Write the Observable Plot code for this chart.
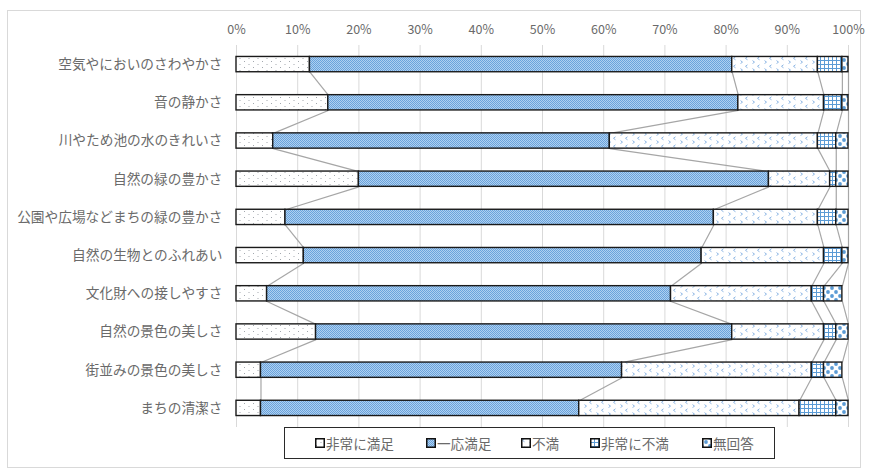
<!DOCTYPE html>
<html>
<head>
<meta charset="utf-8">
<script src="https://cdn.jsdelivr.net/npm/d3@7"></script>
<script src="https://cdn.jsdelivr.net/npm/@observablehq/plot@0.6"></script>
<style>
  html, body { margin: 0; padding: 0; background: #fff; }
  #wrap { position: relative; width: 869px; height: 474px; font-family: "Noto Sans CJK JP", "Noto Sans", sans-serif; }
  #frame { position: absolute; left: 7px; top: 10px; width: 854px; height: 458px; border: 1px solid #d9d9d9; box-sizing: border-box; }
  #chart { position: absolute; left: 0; top: 0; }
  #legend { position: absolute; left: 284px; top: 427px; width: 491px; height: 32px; border: 1px solid #2a2a2a; box-sizing: border-box; background: #fff; }
  .item { position: absolute; top: 0; height: 30px; display: flex; align-items: center; font-size: 13.6px; color: #6a6a6a; white-space: nowrap; }
  .item svg { margin-right: 1px; }
</style>
</head>
<body>
<div id="wrap">
  <div id="frame"></div>
  <div id="chart"></div>
  <div id="legend"></div>
</div>
<script>
// Satisfaction with the local environment, share of answers per item (%)
const categories = [
  "空気やにおいのさわやかさ",
  "音の静かさ",
  "川やため池の水のきれいさ",
  "自然の緑の豊かさ",
  "公園や広場などまちの緑の豊かさ",
  "自然の生物とのふれあい",
  "文化財への接しやすさ",
  "自然の景色の美しさ",
  "街並みの景色の美しさ",
  "まちの清潔さ"
];
const series = ["非常に満足", "一応満足", "不満", "非常に不満", "無回答"];
const verySatisfied     = [12, 15,  6, 20,  8, 11,  5, 13,  4,  4];
const somewhatSatisfied = [69, 67, 55, 67, 70, 65, 66, 68, 59, 52];
const dissatisfied      = [14, 14, 34, 10, 17, 20, 23, 15, 31, 36];
const veryDissatisfied  = [ 4,  3,  3,  1,  3,  3,  2,  2,  2,  6];
const noAnswer          = [ 1,  1,  2,  2,  2,  1,  3,  2,  3,  2];
const xTicks = [0, 10, 20, 30, 40, 50, 60, 70, 80, 90, 100];

const seriesValues = [verySatisfied, somewhatSatisfied, dissatisfied, veryDissatisfied, noAnswer];
const patternIds = ["pat-vs", "pat-ss", "pat-ds", "pat-vd", "pat-na"];
const half = 0.2; // half bar thickness, in row units

// cumulative boundaries per row: [0, s1, s1+s2, ...]
const cum = categories.map((_, i) => [0, ...d3.cumsum(seriesValues.map(v => v[i]))]);

const segments = [];
categories.forEach((c, i) => {
  series.forEach((s, k) => {
    segments.push({row: i, series: s, x1: cum[i][k], x2: cum[i][k + 1]});
  });
});

// series lines joining matching boundaries of neighbouring bars
const joins = [];
for (let k = 1; k <= series.length; k++) {
  for (let i = 0; i < categories.length - 1; i++) {
    joins.push({x1: cum[i][k], y1: i + half, x2: cum[i + 1][k], y2: i + 1 - half});
  }
}

const defs = `
<defs>
  <pattern id="pat-vs" width="9" height="6" patternUnits="userSpaceOnUse">
    <rect width="9" height="6" fill="#fff"/>
    <rect x="1" y="1" width="1" height="1" fill="#a3a8ae"/>
    <rect x="5.5" y="4" width="1" height="1" fill="#a3a8ae"/>
  </pattern>
  <pattern id="pat-ss" width="2" height="2" patternUnits="userSpaceOnUse">
    <rect width="2" height="2" fill="#afd0f0"/>
    <rect x="0" y="0" width="1" height="1" fill="#6aa3dc"/>
    <rect x="1" y="1" width="1" height="1" fill="#6aa3dc"/>
  </pattern>
  <pattern id="pat-ds" width="12" height="8" patternUnits="userSpaceOnUse">
    <rect width="12" height="8" fill="#fff"/>
    <path d="M3.5 0.8 L1.5 2.3 L3.5 3.8" fill="none" stroke="#7fade0" stroke-width="0.9"/>
    <path d="M8.5 4.6 L10.5 6.1 L8.5 7.6" fill="none" stroke="#7fade0" stroke-width="0.9"/>
  </pattern>
  <pattern id="pat-vd" width="4" height="4" patternUnits="userSpaceOnUse">
    <rect width="4" height="4" fill="#fff"/>
    <path d="M0 0.5H4M0.5 0V4" stroke="#5b9bd5" stroke-width="1"/>
  </pattern>
  <pattern id="pat-na" width="8" height="8" patternUnits="userSpaceOnUse">
    <rect width="8" height="8" fill="#fff"/>
    <circle cx="4" cy="4" r="1.9" fill="#5b9bd5"/>
    <circle cx="0" cy="0" r="1.9" fill="#5b9bd5"/>
    <circle cx="8" cy="0" r="1.9" fill="#5b9bd5"/>
    <circle cx="0" cy="8" r="1.9" fill="#5b9bd5"/>
    <circle cx="8" cy="8" r="1.9" fill="#5b9bd5"/>
  </pattern>
</defs>`;

const chart = Plot.plot({
  width: 869,
  height: 430,
  marginTop: 45,
  marginBottom: 3,
  marginLeft: 236,
  marginRight: 21,
  style: {fontFamily: '"Noto Sans CJK JP", "Noto Sans", sans-serif', color: "#6a6a6a", background: "transparent"},
  x: {domain: [0, 100]},
  y: {domain: [-0.5, categories.length - 0.5], reverse: true},
  color: {type: "ordinal", domain: series, range: patternIds.map(id => `url(#${id})`)},
  marks: [
    Plot.gridX(xTicks, {stroke: "#d9d9d9", strokeOpacity: 1, strokeWidth: 1}),
    Plot.axisX(xTicks, {anchor: "top", tickSize: 0, tickPadding: 12, tickFormat: d => d + "%", fontSize: 12.5, fill: "#6a6a6a", label: null}),
    Plot.axisY(d3.range(categories.length), {tickSize: 0, tickPadding: 14, tickFormat: i => categories[i], fontSize: 13.7, fill: "#6a6a6a", label: null}),
    Plot.link(joins, {x1: "x1", y1: "y1", x2: "x2", y2: "y2", stroke: "#a6a6a6", strokeWidth: 1.2}),
    Plot.rectX(segments, {
      x1: "x1", x2: "x2",
      y1: d => d.row - half, y2: d => d.row + half,
      fill: "series",
      stroke: "#1a1a1a", strokeWidth: 1.4
    })
  ]
});
chart.insertAdjacentHTML("afterbegin", defs);
document.getElementById("chart").appendChild(chart);

// legend
const legendLeft = [30, 141, 236, 305, 417];
const legend = document.getElementById("legend");
series.forEach((s, k) => {
  const item = document.createElement("div");
  item.className = "item";
  item.style.left = legendLeft[k] + "px";
  item.innerHTML = `<svg width="10" height="10"><rect x="0.75" y="0.75" width="8.5" height="8.5" fill="url(#${patternIds[k]})" stroke="#111" stroke-width="1.5"/></svg><span>${s}</span>`;
  legend.appendChild(item);
});
</script>
</body>
</html>
